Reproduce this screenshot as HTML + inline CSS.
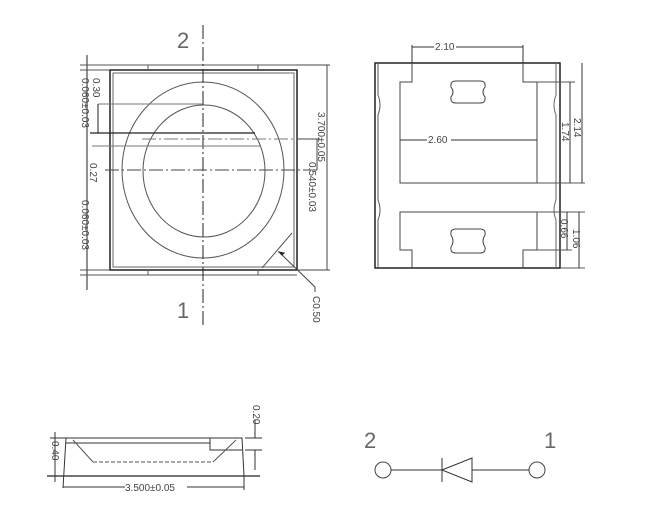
<!DOCTYPE html>
<html><head><meta charset="utf-8"><style>body{margin:0;background:#fff}svg{display:block}text{font-family:"Liberation Sans",sans-serif;fill:#444;stroke:none;font-weight:normal}</style></head><body>
<svg width="647" height="530" viewBox="0 0 647 530" xmlns="http://www.w3.org/2000/svg" fill="none" stroke="#222" stroke-width="1">
<!-- top view -->
<rect x="110" y="70" width="187" height="200" stroke-width="1.5"/>
<rect x="113" y="73" width="181" height="194" stroke="#666"/>
<path d="M110 65 H297 M148 65 V70 M258 65 V70 M110 275 H297 M148 270 V275 M258 270 V275" stroke="#555"/>
<ellipse cx="203" cy="170" rx="81" ry="88" stroke="#555"/>
<ellipse cx="204" cy="171" rx="61" ry="66" stroke="#555"/>
<line x1="203" y1="25" x2="203" y2="325" stroke-dasharray="14,3,2,3"/>
<line x1="105" y1="170" x2="318" y2="170" stroke-dasharray="14,3,2,3" stroke="#444"/>
<line x1="142" y1="139" x2="318" y2="139" stroke-dasharray="14,3,2,3" stroke="#777"/>
<line x1="98" y1="104" x2="203" y2="104" stroke="#777"/>
<line x1="90" y1="133" x2="255" y2="133" stroke-width="1.3"/>
<line x1="92" y1="146" x2="260" y2="146" stroke="#777"/>
<line x1="292" y1="233" x2="262" y2="268" stroke="#555"/>
<path d="M279 252 L315 287 V292" stroke="#444"/>
<path d="M279 252 l5 1 l-2 2 z" fill="#222"/>
<line x1="87" y1="55" x2="87" y2="290"/>
<path d="M80 65 H110 M80 70 H110 M80 270 H110 M80 275 H110" stroke="#555"/>
<line x1="98" y1="104" x2="98" y2="133"/>
<path d="M297 65 H330 M297 270 H330 M327 65 V270 M317 139 V170 M297 139 H320" stroke="#444"/>
<text x="0" y="0" font-size="10" transform="translate(93,78) rotate(90)">0.30</text>
<text x="0" y="0" font-size="10" transform="translate(82,78) rotate(90)">0.060±0.03</text>
<text x="0" y="0" font-size="10" transform="translate(90,163) rotate(90)">0.27</text>
<text x="0" y="0" font-size="10" transform="translate(82,200) rotate(90)">0.060±0.03</text>
<text x="0" y="0" font-size="10" transform="translate(318,112) rotate(90)">3.700±0.05</text>
<text x="0" y="0" font-size="10" transform="translate(309,162) rotate(90)">0.540±0.03</text>
<text x="0" y="0" font-size="10" transform="translate(313,296) rotate(90)">C0.50</text>
<text x="177" y="48" font-size="22" style="fill:#666">2</text>
<text x="177" y="318" font-size="22" style="fill:#666">1</text>
<!-- right view -->
<path d="M375 63 H560 V268 H375 Z" stroke-width="1.5"/>
<path d="M378 63 V95 Q382 105 378 115 V200 Q382 210 378 220 V268" stroke="#555"/>
<path d="M556 63 V95 Q552 105 556 115 V200 Q552 210 556 220 V268" stroke="#666"/>
<path d="M412 63 V82 H400 V183 H537 V82 H523 V63" stroke="#444"/>
<path d="M412 268 V250 H400 V212 H537 V250 H523 V268" stroke="#444"/>
<path d="M537 82 H575 M537 183 H585 M537 212 H585 M537 250 H572 M560 268 H585" stroke="#555"/>
<path d="M456 81 H480 Q486 81 485 87 Q481 92 485 97 Q486 103 480 103 H456 Q450 103 451 97 Q455 92 451 87 Q450 81 456 81Z" stroke="#444"/>
<path d="M456 229 H480 Q486 229 485 235 Q481 241 485 247 Q486 253 480 253 H456 Q450 253 451 247 Q455 241 451 235 Q450 229 456 229Z" stroke="#444"/>
<path d="M412 45 V63 M523 45 V63 M412 47 H523 M400 140 H537 M570 82 V183 M582 63 V183 M567 212 V250 M579 212 V268" stroke="#333"/>
<rect x="434" y="41" width="22" height="10" fill="#fff" stroke="none"/>
<text x="435" y="50" font-size="10">2.10</text>
<rect x="427" y="134" width="24" height="11" fill="#fff" stroke="none"/>
<text x="428" y="143" font-size="10">2.60</text>
<text x="0" y="0" font-size="10" transform="translate(574,118) rotate(90)">2.14</text>
<text x="0" y="0" font-size="10" transform="translate(562,122) rotate(90)">1.74</text>
<text x="0" y="0" font-size="10" transform="translate(561,219) rotate(90)">0.66</text>
<text x="0" y="0" font-size="10" transform="translate(573,229) rotate(90)">1.06</text>
<!-- side view -->
<path d="M47 476 H260" stroke-width="1.3"/>
<path d="M66 438 H242 L244 476 M66 438 L63 488" stroke="#333"/>
<path d="M66 443 H210 M210 438 V450 H242" stroke="#333"/>
<path d="M73 440 L93 462 M236 440 L213 462" stroke="#555"/>
<line x1="93" y1="462" x2="213" y2="462" stroke-dasharray="4,2" stroke="#555"/>
<path d="M244 476 V490 M63 487 H244 M55 432 V482 M50 438 H66 M255 420 V438 M255 450 V470 M245 450 H262 M245 438 H262" stroke="#333"/>
<rect x="125" y="482" width="62" height="10" fill="#fff" stroke="none"/>
<text x="125" y="491" font-size="10">3.500±0.05</text>
<text x="0" y="0" font-size="10" transform="translate(52,441) rotate(90)">0.40</text>
<text x="0" y="0" font-size="10" transform="translate(253,405) rotate(90)">0.20</text>
<!-- diode -->
<circle cx="383" cy="470" r="8" stroke="#444"/>
<circle cx="537" cy="470" r="8" stroke="#444"/>
<path d="M391 470 H442 M442 458 V482 M442 470 L472 458 V482 Z M472 470 H529" stroke="#333"/>
<text x="364" y="448" font-size="22" style="fill:#666">2</text>
<text x="544" y="448" font-size="22" style="fill:#666">1</text>
</svg>
</body></html>
